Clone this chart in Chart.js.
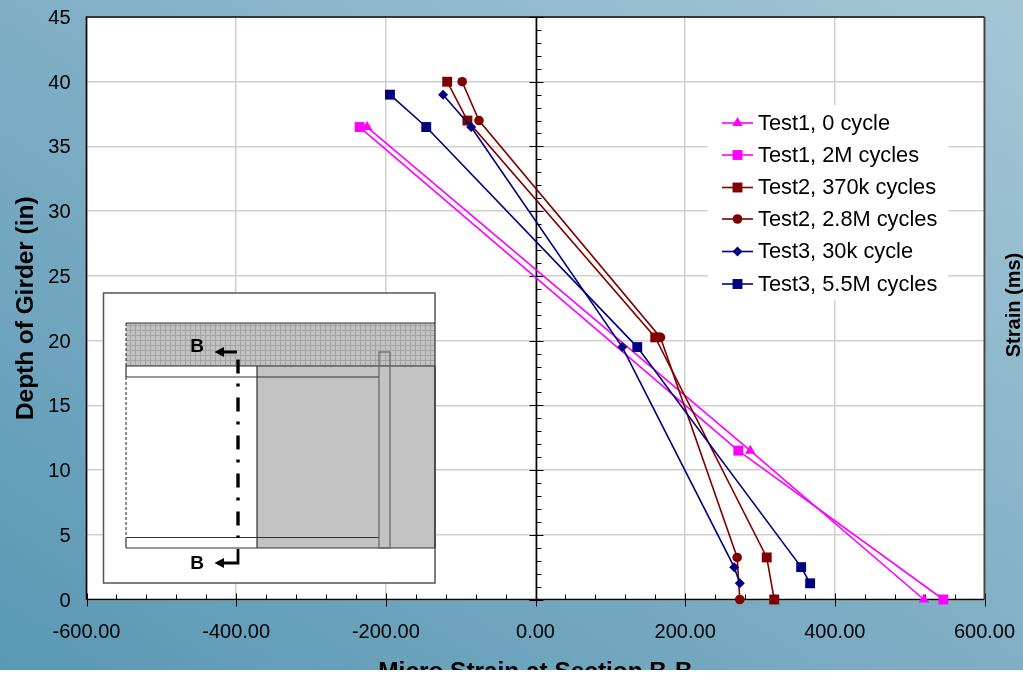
<!DOCTYPE html>
<html>
<head>
<meta charset="utf-8">
<title>Micro Strain at Section B-B</title>
<script src="https://cdn.jsdelivr.net/npm/chart.js@4"></script>
<style>
    html, body { margin: 0; padding: 0; background: #fff; }
    #strainChart { display: block; background: linear-gradient(to top right, #5a98b4, #a6c6d6); }
</style>
</head>
<body>
<canvas id="strainChart" width="1023" height="670"></canvas>
<script>
// Values
const seriesNames = ['Test1, 0 cycle', 'Test1, 2M cycles', 'Test2, 370k cycles',
    'Test2, 2.8M cycles', 'Test3, 30k cycle', 'Test3, 5.5M cycles'];

const test1Depth = [36.5, 11.5, 0];
const test1Cycle0 = [-225, 287, 519];
const test1Cycle2M = [-235, 271, 545];

const test2Depth = [40, 37, 20.25, 3.25, 0];
const test2Cycle370k = [-118, -91, 160, 309, 319];
const test2Cycle28M = [-98, -75.5, 167, 269.5, 273];

const test3Depth = [39, 36.5, 19.5, 2.5, 1.25];
const test3Cycle30k = [-123.5, -86, 116, 265.5, 273];
const test3Cycle55M = [-194.5, -146, 136, 355, 367];

const FONT = "'Liberation Sans', Arial, sans-serif";

function toPoints(xs, ys) {
    return xs.map((x, i) => ({ x: x, y: ys[i] }));
}

function makeSeries(index, xs, ys, color, style, radius) {
    return {
        label: seriesNames[index],
        data: toPoints(xs, ys),
        showLine: true,
        borderColor: color,
        backgroundColor: color,
        borderWidth: 1.6,
        pointStyle: style,
        pointRadius: radius,
        pointHoverRadius: radius,
        pointBorderWidth: 0,
        clip: false,
        order: 6 - index
    };
}

// No extra room for labels hanging over the plot edges
function clearOverhang(scale) {
    scale.paddingTop = 0;
    scale.paddingBottom = 0;
    scale.paddingLeft = 0;
    scale.paddingRight = 0;
}

// Grey block fill with the fine mesh of the deck
function meshPattern(ctx) {
    const c = document.createElement('canvas');
    c.width = 5;
    c.height = 5;
    const p = c.getContext('2d');
    p.fillStyle = '#c2c2c2';
    p.fillRect(0, 0, 5, 5);
    p.fillStyle = '#a4a4a4';
    p.fillRect(0, 0, 5, 1);
    p.fillRect(0, 0, 1, 5);
    return ctx.createPattern(c, 'repeat');
}

// The girder sketch in the lower left corner
function drawInset(ctx) {
    ctx.save();
    ctx.fillStyle = '#fff';
    ctx.fillRect(103, 293, 332, 290);

    ctx.fillStyle = '#c3c3c3';
    ctx.fillRect(257, 366, 178, 182);
    ctx.fillStyle = meshPattern(ctx);
    ctx.fillRect(126, 323, 309, 43);

    ctx.strokeStyle = '#555';
    ctx.lineWidth = 1.5;
    ctx.strokeRect(103.5, 293, 331.5, 290);

    ctx.strokeStyle = '#333';
    ctx.lineWidth = 1.2;
    ctx.beginPath();
    ctx.moveTo(126, 323); ctx.lineTo(435, 323);
    ctx.moveTo(126, 366); ctx.lineTo(435, 366);
    ctx.moveTo(435, 366); ctx.lineTo(435, 548);
    ctx.moveTo(126, 548); ctx.lineTo(435, 548);
    ctx.moveTo(257, 366); ctx.lineTo(257, 548);
    ctx.moveTo(126, 377); ctx.lineTo(379, 377);
    ctx.moveTo(126, 537.5); ctx.lineTo(379, 537.5);
    ctx.moveTo(126, 366); ctx.lineTo(126, 377);
    ctx.moveTo(126, 537.5); ctx.lineTo(126, 548);
    ctx.stroke();

    ctx.strokeStyle = '#666';
    ctx.strokeRect(379, 352, 11, 196);

    ctx.strokeStyle = '#222';
    ctx.lineWidth = 1;
    ctx.setLineDash([3, 2]);
    ctx.beginPath();
    ctx.moveTo(126, 323); ctx.lineTo(126, 366);
    ctx.moveTo(126, 377); ctx.lineTo(126, 537);
    ctx.stroke();

    // Section line B-B
    ctx.strokeStyle = '#000';
    ctx.lineWidth = 3.4;
    ctx.setLineDash([14, 10, 3, 11]);
    ctx.beginPath();
    ctx.moveTo(238, 359.5); ctx.lineTo(238, 538);
    ctx.stroke();
    ctx.setLineDash([]);
    ctx.lineWidth = 2.8;
    ctx.beginPath();
    ctx.moveTo(238, 549); ctx.lineTo(238, 563); ctx.lineTo(220, 563);
    ctx.moveTo(237, 352); ctx.lineTo(220, 352);
    ctx.stroke();

    ctx.fillStyle = '#000';
    [352, 563].forEach(y => {
        ctx.beginPath();
        ctx.moveTo(214.5, y); ctx.lineTo(224, y - 5); ctx.lineTo(224, y + 5);
        ctx.closePath();
        ctx.fill();
    });

    ctx.font = 'bold 19px ' + FONT;
    ctx.textAlign = 'center';
    ctx.textBaseline = 'middle';
    ctx.fillText('B', 197, 347);
    ctx.fillText('B', 197, 564);
    ctx.restore();
}

function drawLegend(chart) {
    const ctx = chart.ctx;
    const rowY = [123, 155, 187.5, 219, 251.5, 284];
    ctx.save();
    ctx.fillStyle = '#fff';
    ctx.fillRect(708, 105, 240, 195);
    ctx.font = '21.8px ' + FONT;
    ctx.textAlign = 'left';
    ctx.textBaseline = 'middle';
    chart.data.datasets.forEach((ds, i) => {
        ctx.strokeStyle = ds.borderColor;
        ctx.lineWidth = 1.6;
        ctx.beginPath();
        ctx.moveTo(722, rowY[i]);
        ctx.lineTo(753, rowY[i]);
        ctx.stroke();
        ctx.fillStyle = ds.backgroundColor;
        Chart.helpers.drawPoint(ctx, { pointStyle: ds.pointStyle, radius: ds.pointRadius, borderWidth: 0 }, 737.5, rowY[i]);
        ctx.fillStyle = '#000';
        ctx.fillText(ds.label, 758, rowY[i] + 0.5);
    });
    ctx.restore();
}

// Frame, and the two axes crossing at zero with their tick marks
function drawAxes(chart) {
    const ctx = chart.ctx;
    const a = chart.chartArea;
    const xs = chart.scales.x;
    const ys = chart.scales.y;
    const x0 = Math.round(xs.getPixelForValue(0)) + 0.5;
    const y0 = a.bottom;

    ctx.save();
    ctx.strokeStyle = '#000';
    ctx.lineWidth = 1;
    ctx.beginPath();
    for (let v = -600; v <= 600; v += 40) {
        const px = Math.round(xs.getPixelForValue(v)) + 0.5;
        ctx.moveTo(px, y0 - (v % 200 === 0 ? 6 : 5));
        ctx.lineTo(px, y0 + (v % 200 === 0 ? 7 : 0));
    }
    for (let v = 0; v <= 45; v += 1) {
        const py = Math.round(ys.getPixelForValue(v)) + 0.5;
        ctx.moveTo(x0 - (v % 5 === 0 ? 7 : 0), py);
        ctx.lineTo(x0 + (v % 5 === 0 ? 7 : 5), py);
    }
    ctx.stroke();

    ctx.lineWidth = 1.6;
    ctx.beginPath();
    ctx.moveTo(x0, a.top);
    ctx.lineTo(x0, a.bottom);
    ctx.moveTo(a.left, a.bottom);
    ctx.lineTo(a.right, a.bottom);
    ctx.moveTo(a.left, a.bottom);
    ctx.lineTo(a.left, a.top);
    ctx.lineTo(a.right, a.top);
    ctx.stroke();
    ctx.strokeStyle = '#444';
    ctx.lineWidth = 2;
    ctx.beginPath();
    ctx.moveTo(a.right, a.top);
    ctx.lineTo(a.right, a.bottom);
    ctx.stroke();

    // Empty secondary axis title on the right
    ctx.translate(1014, 305);
    ctx.rotate(-Math.PI / 2);
    ctx.fillStyle = '#000';
    ctx.font = 'bold 20px ' + FONT;
    ctx.textAlign = 'center';
    ctx.textBaseline = 'middle';
    ctx.fillText('Strain (ms)', 0, 0);
    ctx.restore();
}

const overlayPlugin = {
    id: 'overlay',
    beforeDraw(chart) {
        const a = chart.chartArea;
        chart.ctx.fillStyle = '#fff';
        chart.ctx.fillRect(a.left, a.top, a.right - a.left, a.bottom - a.top);
    },
    beforeDatasetsDraw(chart) {
        drawInset(chart.ctx);
        drawLegend(chart);
        drawAxes(chart);
    }
};

const ctx = document.getElementById('strainChart').getContext('2d');

new Chart(ctx, {
    type: 'scatter',
    data: {
        datasets: [
            makeSeries(0, test1Cycle0, test1Depth, '#ff00ff', 'triangle', 6),
            makeSeries(1, test1Cycle2M, test1Depth, '#ff00ff', 'rect', 7),
            makeSeries(2, test2Cycle370k, test2Depth, '#800000', 'rect', 7),
            makeSeries(3, test2Cycle28M, test2Depth, '#800000', 'circle', 4.8),
            makeSeries(4, test3Cycle30k, test3Depth, '#000080', 'rectRot', 5),
            makeSeries(5, test3Cycle55M, test3Depth, '#000080', 'rect', 7)
        ]
    },
    options: {
        responsive: false,
        animation: false,
        layout: { padding: { top: 17, right: 38.5 } },
        plugins: {
            legend: { display: false },
            tooltip: { enabled: false }
        },
        scales: {
            x: {
                min: -600,
                max: 600,
                afterFit(scale) { scale.height = 70.5; clearOverhang(scale); },
                grid: { color: '#cfcfcf', lineWidth: 1.5, drawTicks: false },
                border: { display: false },
                ticks: {
                    stepSize: 200,
                    padding: 21,
                    maxRotation: 0,
                    color: '#000',
                    font: { family: FONT, size: 20 },
                    callback: value => value.toFixed(2)
                },
                title: {
                    display: true,
                    text: 'Micro Strain at Section B-B',
                    color: '#000',
                    font: { family: FONT, size: 24.4, weight: 'bold' },
                    padding: { top: 0, bottom: -17 }
                }
            },
            y: {
                min: 0,
                max: 45,
                afterFit(scale) { scale.width = 86.5; clearOverhang(scale); },
                grid: { color: '#cfcfcf', lineWidth: 1.5, drawTicks: false },
                border: { display: false },
                ticks: {
                    stepSize: 5,
                    padding: 16,
                    labelOffset: 1.5,
                    color: '#000',
                    font: { family: FONT, size: 20 }
                },
                title: {
                    display: true,
                    text: 'Depth of Girder (in)',
                    color: '#000',
                    font: { family: FONT, size: 24.4, weight: 'bold' },
                    padding: { top: 12, bottom: 0 }
                }
            }
        }
    },
    plugins: [overlayPlugin]
});
</script>
</body>
</html>
